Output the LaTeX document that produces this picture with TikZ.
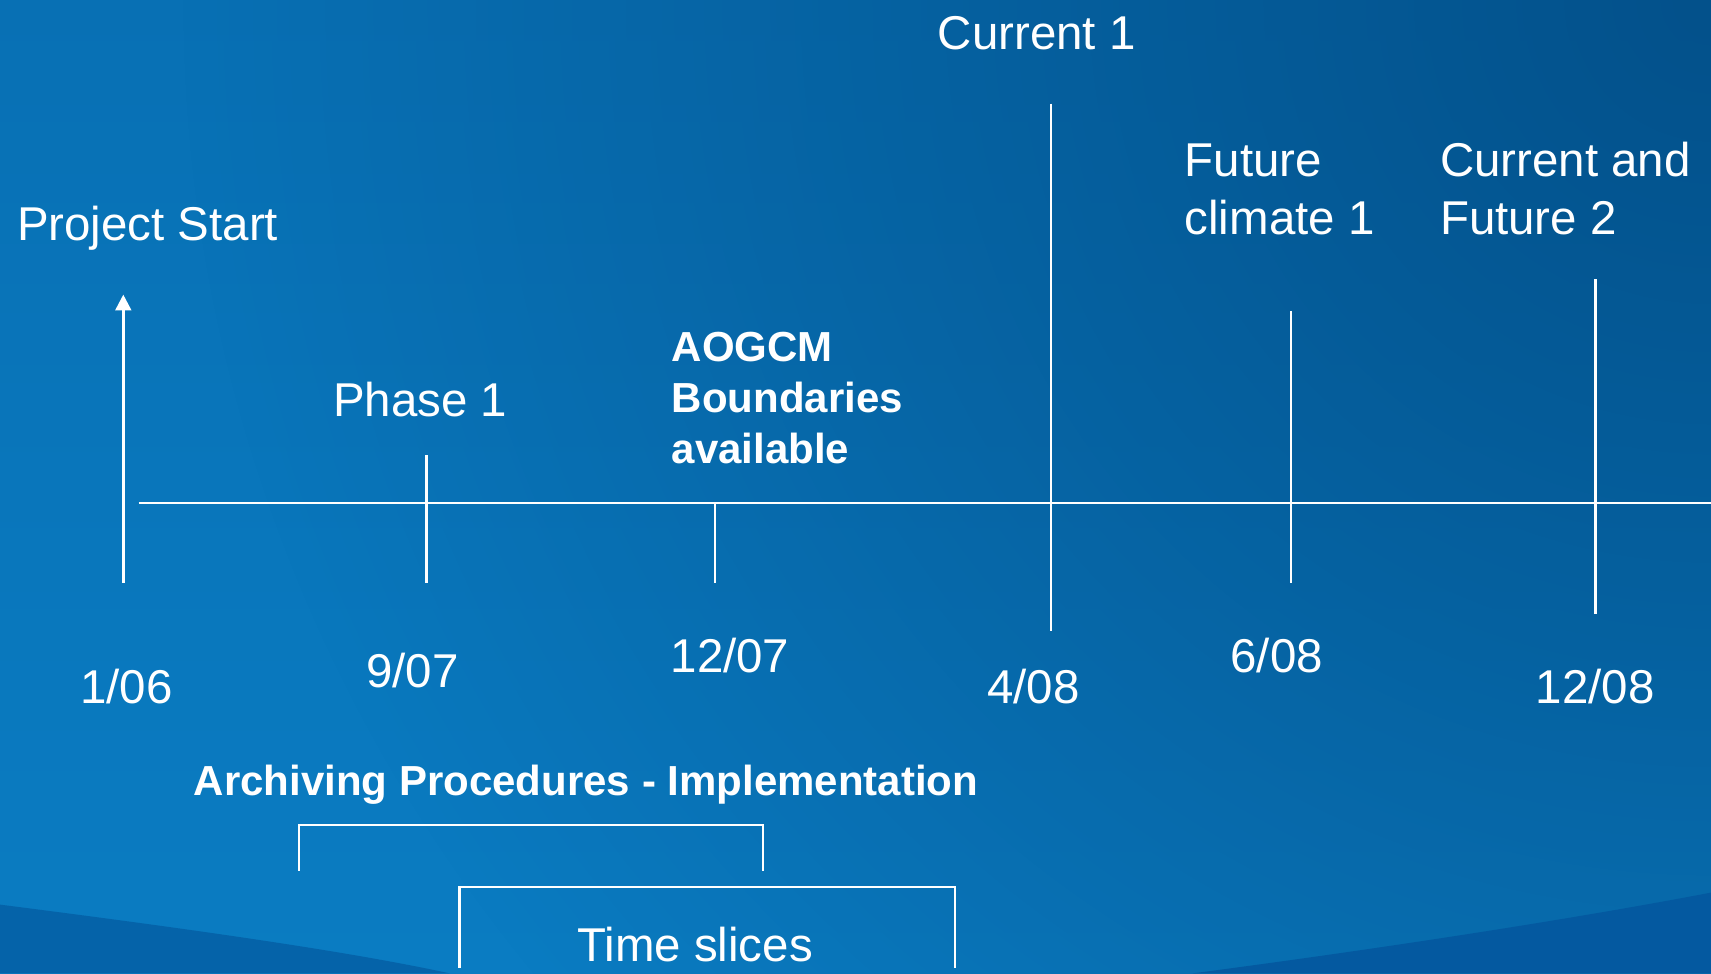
\documentclass[tikz,border=0pt]{standalone}
\usepackage{fontspec}
\setmainfont{Liberation Sans}
\usetikzlibrary{arrows.meta,fadings}
\definecolor{bgdark}{HTML}{03518B}
\definecolor{bgtop}{HTML}{0870B4}
\definecolor{bgbottom}{HTML}{0A7CC2}
\definecolor{bandleft}{HTML}{0563A9}
\definecolor{bandright}{HTML}{0459A0}
\tikzfading[name=cornerfade,inner color=transparent!0,outer color=transparent!100]
\begin{document}
\begin{tikzpicture}[x=0.010912cm,y=-0.010912cm,
    line/.style={white,line width=0.7pt},
    lab/.style={white,inner sep=0pt,align=left,font=\fontsize{13.5}{16.4}\selectfont},
    blab/.style={lab,font=\fontsize{11.95}{14.5}\selectfont\bfseries}]
  \shade[top color=bgtop,bottom color=bgbottom] (0,0) rectangle (1568,892);
  \begin{scope}
    \clip (0,0) rectangle (1568,892);
    \fill[bgdark,path fading=cornerfade] (1568,0) circle (1400);
  \end{scope}
  \useasboundingbox (0,0) rectangle (1568,892);
  \fill[bandleft] (0,829) .. controls (180,852) and (320,872) .. (412,892) -- (0,892) -- cycle;
  \fill[bandright] (1568,818) .. controls (1400,850) and (1200,878) .. (1093,892) -- (1568,892) -- cycle;
  % time axis and ticks
  \coordinate (axisL) at (127,461);
  \coordinate (axisR) at (1568,461);
  \coordinate (startbot) at (113,534);
  \coordinate (starttop) at (113,270);
  \coordinate (ph1top) at (391,417);
  \coordinate (ph1bot) at (391,534);
  \coordinate (aotop) at (655,461);
  \coordinate (aobot) at (655,534);
  \coordinate (cur1top) at (963,95);
  \coordinate (cur1bot) at (963,578);
  \coordinate (fut1top) at (1183,285);
  \coordinate (fut1bot) at (1183,534);
  \coordinate (fut2top) at (1462,256);
  \coordinate (fut2bot) at (1462,563);
  \draw[line] (axisL) -- (axisR);
  \draw[line,-{Triangle[width=4.5pt,length=4.5pt]}] (startbot) -- (starttop);
  \draw[line] (ph1top) -- (ph1bot);
  \draw[line] (aotop) -- (aobot);
  \draw[line] (cur1top) -- (cur1bot);
  \draw[line] (fut1top) -- (fut1bot);
  \draw[line] (fut2top) -- (fut2bot);
  % milestones
  \node[lab,anchor=base west] (startlab) at (15,220) {Project Start};
  \node[lab,anchor=base] (ph1lab) at (385,382) {Phase 1};
  \node[blab,anchor=base west] (aolab) at (615,425) {AOGCM\\Boundaries\\available};
  \node[lab,anchor=base] (cur1lab) at (950,45) {Current 1};
  \node[lab,anchor=base west] (fut1lab) at (1085,215) {Future\\climate 1};
  \node[lab,anchor=base west] (fut2lab) at (1319,215) {Current and\\Future 2};
  % dates
  \node[lab,anchor=base] (d106) at (116,645) {1/06};
  \node[lab,anchor=base] (d907) at (378,630) {9/07};
  \node[lab,anchor=base] (d1207) at (669,616) {12/07};
  \node[lab,anchor=base] (d408) at (947,645) {4/08};
  \node[lab,anchor=base] (d608) at (1170,616) {6/08};
  \node[lab,anchor=base] (d1208) at (1462,645) {12/08};
  % periods
  \node[blab,anchor=base] (archlab) at (537,729) {Archiving Procedures - Implementation};
  \coordinate (archL) at (274,798);
  \coordinate (archR) at (699,798);
  \draw[line] (archL) |- (699,756) -- (archR);
  \coordinate (sliceL) at (421,887);
  \coordinate (sliceR) at (875,887);
  \draw[line] (sliceL) |- (875,813) -- (sliceR);
  \node[lab,anchor=base] (slicelab) at (637,881) {Time slices};
\end{tikzpicture}
\end{document}
